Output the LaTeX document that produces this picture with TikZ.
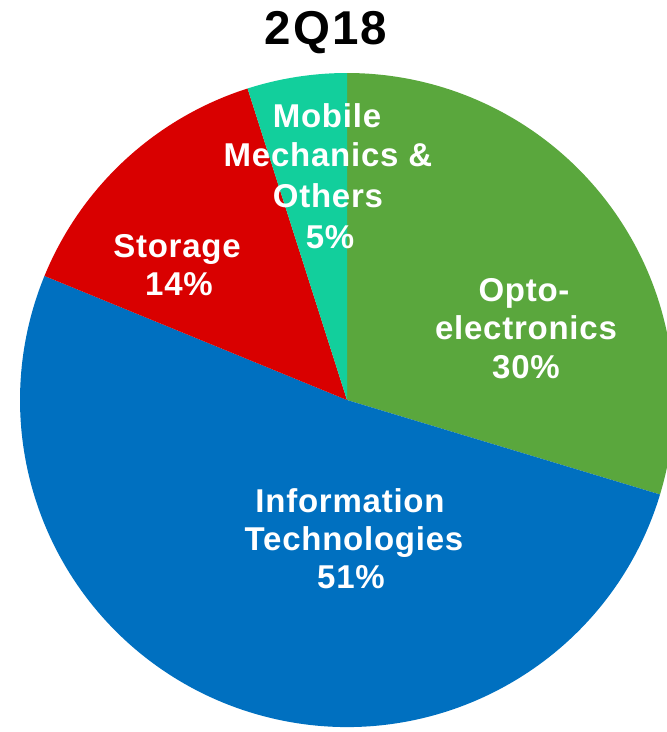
\documentclass[tikz,border=0pt]{standalone}
\usepackage{fontspec}
\setmainfont{Liberation Sans}[LetterSpace=2.3]
\newfontfamily\ttlfont{Liberation Sans}[LetterSpace=4.5]
\definecolor{optogreen}{RGB}{90,167,61}
\definecolor{itblue}{RGB}{0,112,192}
\definecolor{storred}{RGB}{217,0,0}
\definecolor{mobteal}{RGB}{18,207,156}
\begin{document}
\begin{tikzpicture}[x=1pt,y=1pt,
  lab/.style={text=white,font=\bfseries\fontsize{33}{33}\selectfont,anchor=base,inner sep=0pt},
  ttl/.style={text=black,font=\ttlfont\bfseries\fontsize{47.5}{48}\selectfont,anchor=base,inner sep=0pt}]
\useasboundingbox (0,0) rectangle (667,-732);
\clip (0,0) rectangle (667,-732);
\coordinate (c) at (347,-400);
\fill[optogreen] (c) -- ++(90:327) arc[start angle=90,end angle=-16.8,radius=327] -- cycle;
\fill[itblue] (c) -- ++(-16.8:327) arc[start angle=-16.8,end angle=-202.3,radius=327] -- cycle;
\fill[storred] (c) -- ++(157.7:327) arc[start angle=157.7,end angle=107.7,radius=327] -- cycle;
\fill[mobteal] (c) -- ++(107.7:327) arc[start angle=107.7,end angle=90,radius=327] -- cycle;
\node[ttl] (title) at (326,-44) {2Q18};
\node[lab] (mob1) at (327,-127) {Mobile};
\node[lab] (mob2) at (328,-166) {Mechanics \&};
\node[lab] (mob3) at (328,-207) {Others};
\node[lab] (mob4) at (330,-248) {5\%};
\node[lab] (st1) at (177,-257) {Storage};
\node[lab] (st2) at (179,-295) {14\%};
\node[lab] (op1) at (524,-301) {Opto-};
\node[lab] (op2) at (526,-339) {electronics};
\node[lab] (op3) at (526,-378) {30\%};
\node[lab] (it1) at (350,-512) {Information};
\node[lab] (it2) at (354,-550) {Technologies};
\node[lab] (it3) at (351,-588) {51\%};
\end{tikzpicture}
\end{document}
